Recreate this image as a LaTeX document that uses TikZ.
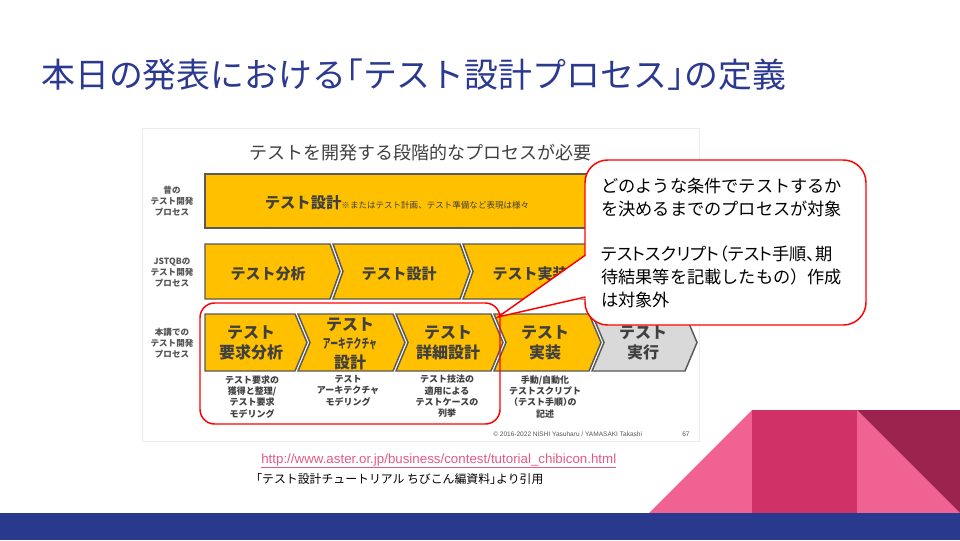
\documentclass[tikz,border=0pt]{standalone}
\usepackage{fontspec}
\setmainfont{Noto Sans CJK JP}
\newfontfamily\latf{Liberation Sans}
\definecolor{titleblue}{RGB}{43,57,144}
\definecolor{barblue}{RGB}{40,57,142}
\definecolor{boxyellow}{RGB}{255,192,0}
\definecolor{boxgray}{RGB}{217,217,217}
\definecolor{edgegray}{RGB}{89,89,89}
\definecolor{txtdark}{RGB}{64,64,64}
\definecolor{lblgray}{RGB}{85,85,85}
\definecolor{urlpink}{RGB}{226,90,132}
\definecolor{pinklight}{RGB}{240,98,146}
\definecolor{pinkmid}{RGB}{208,50,104}
\definecolor{maroon}{RGB}{155,35,77}
\definecolor{framegray}{RGB}{236,236,236}
\newcommand{\chevN}[6]{\path[#6] (#1,#3) -- (#2,#3) -- ({#2+#5},{(#3+#4)/2}) -- (#2,#4) -- (#1,#4) -- ({#1+#5},{(#3+#4)/2}) -- cycle;}
\newcommand{\chevF}[6]{\path[#6] (#1,#3) -- (#2,#3) -- ({#2+#5},{(#3+#4)/2}) -- (#2,#4) -- (#1,#4) -- cycle;}
\newcommand{\hw}[1]{{\addfontfeatures{RawFeature=+halt}#1}}
\tikzset{
  ybox/.style={fill=boxyellow, draw=edgegray, line width=1.1pt},
  gbox/.style={fill=boxgray, draw=edgegray, line width=1.1pt},
  rowlabel/.style={inner sep=0, align=center, text=lblgray, font=\bfseries\fontsize{6.4pt}{8.25pt}\selectfont},
  boxtext/.style={inner sep=0, align=center, text=txtdark, font=\bfseries\fontsize{11.25pt}{14pt}\selectfont},
  bigtext/.style={inner sep=0, align=center, text=txtdark, font=\bfseries\fontsize{12pt}{15pt}\selectfont},
  subtext/.style={inner sep=0, anchor=north, align=center, text=txtdark, font=\bfseries\fontsize{6.75pt}{8.5pt}\selectfont},
  redline/.style={draw=red, line width=1.1pt},
}
\begin{document}
\begin{tikzpicture}[x=0.75pt, y=-0.75pt]
\useasboundingbox (0,0) rectangle (960,540);
\fill[white] (0,0) rectangle (960,540);
% title
\node[anchor=west, inner sep=0, text=titleblue, font=\fontsize{25.4pt}{29pt}\selectfont] (title) at (41,75) {本日の発表における\hw{「}テスト設計プロセス\hw{」}の定義};
% embedded figure frame
\draw[framegray, line width=0.75pt] (142,128) rectangle (699,441);
\node[inner sep=0, text=txtdark, font=\fontsize{13.5pt}{16pt}\selectfont] (head) at (420,153) {テストを開発する段階的なプロセスが必要};
% row labels
\node[rowlabel] (lab1) at (172,201) {昔の\\テスト開発\\プロセス};
\node[rowlabel] (lab2) at (172,273) {JSTQBの\\テスト開発\\プロセス};
\node[rowlabel] (lab3) at (172,343) {本講での\\テスト開発\\プロセス};
% row 1
\path[ybox] (205,174) rectangle (690,228);
\node[inner sep=0, text=txtdark] (r1t) at (397,203) {{\bfseries\fontsize{11.5pt}{13pt}\selectfont テスト設計}{\fontsize{6.4pt}{8pt}\selectfont ※またはテスト計画、テスト準備など表現は様々}};
% row 2
\chevF{205}{330}{244}{299}{10}{ybox}
\chevN{333}{460}{244}{299}{10}{ybox}
\chevN{463}{690}{244}{299}{10}{ybox}
\node[boxtext] (r2a) at (268,274) {テスト分析};
\node[boxtext] (r2b) at (399,274) {テスト設計};
\node[boxtext] (r2c) at (530,274) {テスト実装};
% row 3
\chevF{205}{295}{314}{371}{12}{ybox}
\chevN{298}{393}{314}{371}{12}{ybox}
\chevN{396}{491}{314}{371}{12}{ybox}
\chevN{494}{589}{314}{371}{12}{ybox}
\chevN{592}{685}{314}{371}{12}{gbox}
\node[bigtext] (r3a) at (251,343) {テスト\\要求分析};
\node[bigtext] (r3b1) at (350,325) {テスト};
\node[inner sep=0, text=txtdark] (r3b2) at (350,344) {\scalebox{0.6}[1]{\bfseries\fontsize{9.75pt}{12pt}\selectfont アーキテクチャ}};
\node[bigtext] (r3b3) at (350,362) {設計};
\node[bigtext] (r3c) at (448,343) {テスト\\詳細設計};
\node[bigtext] (r3d) at (545,343) {テスト\\実装};
\node[bigtext] (r3e) at (643,343) {テスト\\実行};
% sub texts
\node[subtext] (s1) at (252,375) {テスト要求の\\獲得と整理/\\テスト要求\\モデリング};
\node[subtext] (s2) at (348,375) {テスト\\アーキテクチャ\\モデリング};
\node[subtext] (s3) at (447,375) {テスト技法の\\適用による\\テストケースの\\列挙};
\node[subtext] (s4) at (545,375) {手動/自動化\\テストスクリプト\\\hw{（}テスト手順\hw{）}の\\記述};
% copyright
\node[anchor=west, inner sep=0, text=lblgray, font=\latf\fontsize{4.9pt}{6pt}\selectfont] (copy) at (493,434) {© 2016-2022 NISHI Yasuharu / YAMASAKI Takashi};
\node[anchor=west, inner sep=0, text=lblgray, font=\latf\fontsize{4.9pt}{6pt}\selectfont] (pg) at (682,434) {67};
% red frame
\draw[redline, rounded corners=11pt] (200,303) rectangle (500,424);
% callout
\coordinate (tip) at (498,317);
\draw[redline, fill=white, rounded corners=17pt] (585,160) rectangle (866,325);
\fill[white] (587,254) -- (tip) -- (587,298) -- cycle;
\draw[redline, line join=miter] (585.5,255) -- (tip) -- (585.5,297);
\node[anchor=north west, inner sep=0, align=left, text=black, font=\fontsize{12.9pt}{17pt}\selectfont] (note) at (601,178) {どのような条件でテストするか\\を決めるまでのプロセスが対象\\[17pt]{\addfontfeatures{RawFeature=+palt}テストスクリプト（テスト手順、期}\\待結果等を記載したもの）作成\\は対象外};
% source
\node[anchor=west, inner sep=0, text=urlpink, font=\latf\fontsize{10pt}{12pt}\selectfont] (url) at (261,461) {\underline{http://www.aster.or.jp/business/contest/tutorial\_chibicon.html}};
\node[anchor=west, inner sep=0, text=black, font=\fontsize{8.9pt}{10pt}\selectfont] (src) at (256,479) {\hw{「}テスト設計チュートリアル ちびこん編資料\hw{」}より引用};
% decoration
\fill[pinklight] (649,513) -- (752,410) -- (752,513) -- cycle;
\fill[pinkmid] (752,410) rectangle (857,513);
\fill[pinklight] (857,410) -- (960,513) -- (857,513) -- cycle;
\fill[maroon] (857,410) -- (960,410) -- (960,513) -- cycle;
\fill[barblue] (0,513) rectangle (960,540);
\end{tikzpicture}
\end{document}
